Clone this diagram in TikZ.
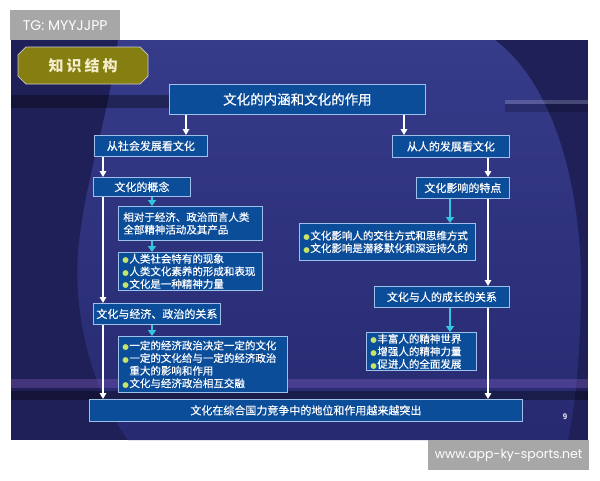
\documentclass[tikz,border=0pt]{standalone}
\usepackage{fontspec}
\newfontfamily\cjk{Noto Sans CJK SC}[UprightFeatures={FakeBold=0.35}]
\newfontfamily\cjkt{Noto Sans CJK SC}
\newfontfamily\wmfont{Poppins}
\newfontfamily\dejavu{DejaVu Sans}
\usetikzlibrary{arrows.meta,calc,shapes.misc}
\definecolor{slidedark}{HTML}{1F2058}
\definecolor{slidemid}{HTML}{2D317C}
\definecolor{slidetop}{HTML}{363B8A}
\definecolor{slidelow}{HTML}{272A70}
\definecolor{boxfill}{HTML}{0C4D9A}
\definecolor{boxline}{HTML}{9FC0EA}
\definecolor{cyanarr}{HTML}{33C6DE}
\definecolor{bulletc}{HTML}{C6E36A}
\definecolor{olive}{HTML}{857F12}
\definecolor{cream}{HTML}{F4EDCB}
\definecolor{wmgray}{HTML}{A7A7A7}
\newcommand\bul{\makebox[7pt][l]{\textcolor{bulletc}{{\dejavu\fontsize{7.5}{7.5}\selectfont ●}}}}
\begin{document}
\begin{tikzpicture}[x=1pt,y=-1pt,
  box/.style={draw=boxline, fill=boxfill, line width=0.8pt, text=white,
    font=\cjk\fontsize{11}{12.6}\selectfont, inner sep=0pt, anchor=north west},
  lbox/.style={box, align=left, inner xsep=5pt, font=\cjk\fontsize{10.5}{12.6}\selectfont},
  warr/.style={draw=white, line width=1.6pt, -{Triangle[width=6.5pt,length=6pt]}},
  carr/.style={draw=cyanarr, line width=2.6pt, -{Triangle[width=8pt,length=6pt]}},
  wm/.style={fill=wmgray, text=white, inner sep=0pt, anchor=north west}
]
\useasboundingbox[fill=white] (0,0) rectangle (600,480);

% slide background
\fill[slidedark] (11,40) rectangle (588,440);
\begin{scope}
  \clip (11,40) rectangle (588,440);
  \shade[top color=slidetop, bottom color=slidelow]
    (118,40) -- (495,40) .. controls (555,85) and (582,190) .. (581,290)
    .. controls (580,370) and (574,410) .. (568,440) -- (128,440)
    .. controls (88,385) and (70,300) .. (80,235)
    .. controls (88,170) and (108,120) .. (118,40) -- cycle;
  \fill[black, opacity=0.35] (11,95) rectangle (175,108);
  \fill[white, opacity=0.18] (505,100) rectangle (588,104);
  \fill[black, opacity=0.2] (505,104) rectangle (588,112);
  \fill[violet!60!blue!60!white, opacity=0.3] (11,379) rectangle (588,388);
  \fill[black, opacity=0.35] (11,391) rectangle (588,400);
\end{scope}

% watermarks
\node[wm, minimum width=110, minimum height=30, font=\wmfont\fontsize{14}{16}\selectfont] (wm1) at (10,10) {TG: MYYJJPP};
\node[wm, minimum width=161, minimum height=30, font=\wmfont\fontsize{12.5}{14}\selectfont] (wm2) at (428,440) {www.app-ky-sports.net};

% title plate
\node[chamfered rectangle, chamfered rectangle xsep=5pt, fill=olive, draw=gray!40, line width=0.6pt,
  minimum width=130, minimum height=37, inner sep=0pt, text=cream,
  font=\cjkt\bfseries\fontsize{15}{15}\selectfont] (title) at (83,65.5)
  {知\hspace{3pt}识\hspace{3pt}结\hspace{3pt}构};

% boxes
\node[box, minimum width=256, minimum height=30, font=\cjk\fontsize{13.5}{15}\selectfont] (top) at (169,84) {文化的内涵和文化的作用};
\node[box, minimum width=113, minimum height=21] (L1) at (94,135) {从社会发展看文化};
\node[box, minimum width=117, minimum height=22] (R1) at (392,135) {从人的发展看文化};
\node[box, minimum width=97, minimum height=19] (L2) at (93,177) {文化的概念};
\node[lbox, text width=134, minimum height=34] (L3) at (118,206) {相对于经济、政治而言人类\\全部精神活动及其产品};
\node[lbox, minimum height=38, inner xsep=4pt, text width=136] (L4) at (118,252)
  {\bul 人类社会特有的现象\\\bul 人类文化素养的形成和表现\\\bul 文化是一种精神力量};
\node[box, minimum width=127, minimum height=21] (L5) at (93,303) {文化与经济、政治的关系};
\node[lbox, inner xsep=4pt, text width=161, minimum height=56] (L6) at (118,336)
  {\bul 一定的经济政治决定一定的文化\\\bul 一定的文化给与一定的经济政治\\\hspace*{7pt}重大的影响和作用\\\bul 文化与经济政治相互交融};
\node[box, minimum width=433, minimum height=22] (B) at (89,399) {文化在综合国力竞争中的地位和作用越来越突出};
\node[box, minimum width=93, minimum height=21] (R2) at (416,177) {文化影响的特点};
\node[lbox, inner xsep=4pt, text width=168, minimum height=37] (R3) at (299,223)
  {\bul 文化影响人的交往方式和思维方式\\\bul 文化影响是潜移默化和深远持久的};
\node[lbox, inner xsep=4pt, text width=102, minimum height=38] (R5) at (366,332)
  {\bul 丰富人的精神世界\\\bul 增强人的精神力量\\\bul 促进人的全面发展};
\node[box, minimum width=135, minimum height=21] (R4) at (374,286) {文化与人的成长的关系};

\node[text=white, font=\sffamily\bfseries\fontsize{8}{8}\selectfont] (pg) at (565,417) {9};

% arrow columns
\coordinate (xa) at (186,0);
\coordinate (xb) at (404,0);
\coordinate (xc) at (103,0);
\coordinate (xd) at (152,0);
\coordinate (xe) at (488,0);
\coordinate (xf) at (450,0);

\draw[warr] (top.south -| xa) -- (L1.north -| xa);
\draw[warr] (top.south -| xb) -- (R1.north -| xb);
\draw[warr] (L1.south -| xc) -- (L2.north -| xc);
\draw[warr] (L2.south -| xc) -- (L5.north -| xc);
\draw[warr] (L5.south -| xc) -- (B.north -| xc);
\draw[carr] (L2.south -| xd) -- (L3.north -| xd);
\draw[carr] (L3.south -| xd) -- (L4.north -| xd);
\draw[carr] (L5.south -| xd) -- (L6.north -| xd);
\draw[warr] (R1.south -| xe) -- (R2.north -| xe);
\draw[warr] (R2.south -| xe) -- (R4.north -| xe);
\draw[warr] (R4.south -| xe) -- (B.north -| xe);
\draw[carr] (R2.south -| xf) -- (R3.north -| xf);
\draw[carr] (R4.south -| xf) -- (R5.north -| xf);
\end{tikzpicture}
\end{document}
